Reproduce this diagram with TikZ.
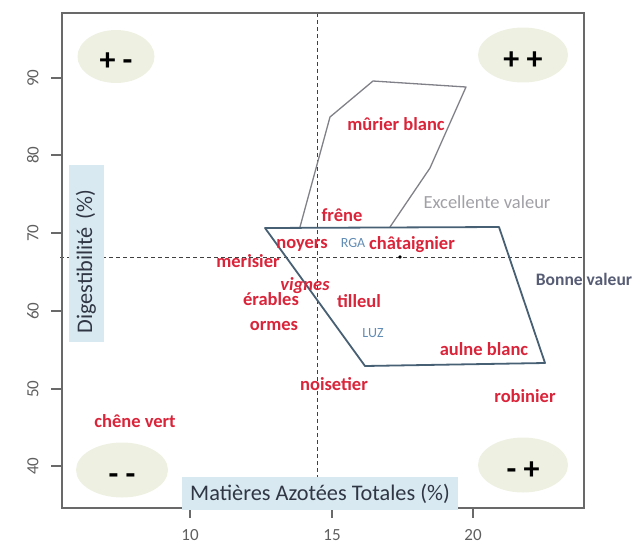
\documentclass[tikz,border=0pt]{standalone}
\usepackage{fontspec}
\setmainfont{Carlito}
\usetikzlibrary{shapes.geometric}

\definecolor{specred}{RGB}{218,36,58}
\definecolor{quadfill}{RGB}{238,240,226}
\definecolor{titlebox}{RGB}{216,233,242}
\definecolor{titletext}{RGB}{48,54,68}
\definecolor{bonneline}{RGB}{72,96,116}
\definecolor{bonnetext}{RGB}{86,92,116}
\definecolor{excline}{RGB}{128,128,136}
\definecolor{forblue}{RGB}{98,140,180}
\definecolor{axisgrey}{RGB}{105,105,105}

\begin{document}
\begin{tikzpicture}[x=1pt,y=-1pt,
    species/.style={text=specred,font=\bfseries\fontsize{18.5}{19}\selectfont,inner sep=0pt,text height=11pt,text depth=0pt},
    forage/.style={text=forblue,font=\fontsize{14}{14}\selectfont,inner sep=0pt,text height=9pt,text depth=0pt},
    zone/.style={font=\fontsize{18.5}{19}\selectfont,inner sep=0pt,text height=11pt,text depth=0pt},
    quadrant/.style={ellipse,fill=quadfill,inner sep=0pt,text height=28pt,text depth=0pt,font=\bfseries\fontsize{32}{32}\selectfont},
    axistitle/.style={fill=titlebox,text=titletext,font=\fontsize{22.3}{23}\selectfont,inner sep=0pt},
    ticklabel/.style={text=axisgrey!90!black,font=\fontsize{17}{17}\selectfont,inner sep=0pt},
    guide/.style={dash pattern=on 4pt off 3pt,line width=0.8pt,black!75},
    axisline/.style={axisgrey,line width=1.1pt},
]
    \useasboundingbox (0,0) rectangle (635,547);

    % mean lines
    \draw [guide] (60,257) -- (584,257);
    \draw [guide] (317,13) -- (317,508);
    \node [circle,fill=black,inner sep=1.3pt] (mean) at (400,257) {};

    % frame and ticks
    \draw [axisline] (62,13) rectangle (584,508);
    \foreach \v/\yy in {40/466,50/389,60/311,70/233,80/155,90/78}{
        \draw [axisline] (62,\yy) -- (51,\yy);
        \node [ticklabel,rotate=90] (y\v) at (33,\yy) {\v};
    }
    \foreach \v/\xx in {10/190,15/332,20/473}{
        \draw [axisline] (\xx,508) -- (\xx,518);
        \node [ticklabel] (x\v) at (\xx,535.5) {\v};
    }

    \node [axistitle,minimum width=276pt,minimum height=33pt] (xtitle) at (320,493.5) {Matières Azotées Totales (\%)};
    \node [axistitle,rotate=90,minimum height=35pt,text width=161pt,inner xsep=8pt,align=left] (ytitle) at (86,253) {Digestibilité (\%)};

    \node [quadrant,minimum width=77pt,minimum height=53pt] (pm) at (116,56.5) {+ -};
    \node [quadrant,minimum width=90pt,minimum height=55pt] (pp) at (523,55) {+ +};
    \node [quadrant,minimum width=92pt,minimum height=55pt] (mm) at (122,470) {- -};
    \node [quadrant,minimum width=90pt,minimum height=55pt] (mp) at (523,465) {- +};

    % value zones
    \draw [excline,line width=1.3pt,line join=round] (300,227) -- (330,117) -- (373,81) -- (466,87) -- (430,168) -- (390,227);
    \draw [bonneline,line width=1.8pt,line join=round] (265,228) -- (499,227) -- (545,363) -- (365,366) -- cycle;
    \node [zone,text=excline!75] (excellente) at (487,203) {Excellente valeur};
    \node [zone,text=bonnetext,font=\bfseries\fontsize{17.5}{18}\selectfont] (bonne) at (584,280) {Bonne valeur};

    \node [species] (murier) at (396,125) {mûrier blanc};
    \node [species] (frene) at (342,216) {frêne};
    \node [species] (noyers) at (302,243) {noyers};
    \node [forage] (rga) at (353,243) {RGA};
    \node [species] (chataignier) at (412,244) {châtaignier};
    \node [species] (merisier) at (248,262) {merisier};
    \node [species,font=\bfseries\itshape\fontsize{18.5}{19}\selectfont] (vignes) at (305,285) {vignes};
    \node [species] (erables) at (271,300) {érables};
    \node [species] (tilleul) at (359,302) {tilleul};
    \node [species] (ormes) at (274,325) {ormes};
    \node [forage] (luz) at (373,333) {LUZ};
    \node [species] (aulne) at (484,350) {aulne blanc};
    \node [species] (noisetier) at (334,385) {noisetier};
    \node [species] (robinier) at (525,397) {robinier};
    \node [species] (chene) at (135,422) {chêne vert};
\end{tikzpicture}
\end{document}
